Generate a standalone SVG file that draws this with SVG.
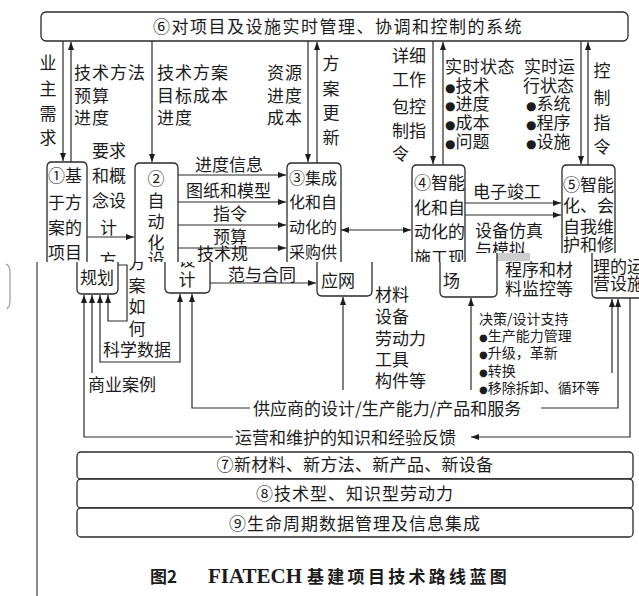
<svg xmlns="http://www.w3.org/2000/svg" width="639" height="596" viewBox="0 0 639 596">
<defs>
<style>
.t{font-family:"Noto Sans CJK SC","Noto Sans CJK JP",sans-serif;font-size:17px;fill:#1c1c1c}
.m{text-anchor:middle}
.s{font-size:14px}
.n{font-size:16px}
.d{font-family:"DejaVu Sans",sans-serif;font-size:12px}
.ds{font-family:"DejaVu Sans",sans-serif;font-size:10px}
.bx{fill:#fff;stroke:#2a2a2a;stroke-width:1.3}
.pc{fill:none;stroke:#2a2a2a;stroke-width:1.3}
.l{fill:none;stroke:#2a2a2a;stroke-width:1.2}
.a{marker-end:url(#ah)}
.a2{marker-start:url(#ahs);marker-end:url(#ah)}
</style>
<marker id="ah" viewBox="0 0 8 6" refX="8" refY="3" markerWidth="8" markerHeight="6" markerUnits="userSpaceOnUse" orient="auto"><path d="M0,0 L8,3 L0,6 z" fill="#1c1c1c"/></marker>
<marker id="ahs" viewBox="0 0 8 6" refX="8" refY="3" markerWidth="8" markerHeight="6" markerUnits="userSpaceOnUse" orient="auto-start-reverse"><path d="M0,0 L8,3 L0,6 z" fill="#1c1c1c"/></marker>
<clipPath id="ct"><polygon points="0,0 639,0 639,253 470,253 470,262 0,262"/></clipPath>
<clipPath id="cb"><polygon points="0,262 470,262 470,253 639,253 639,596 0,596"/></clipPath>
</defs>
<rect width="639" height="596" fill="#fff"/>

<!-- scan artifacts -->
<line x1="37" y1="262" x2="37" y2="596" stroke="#8a8a8a" stroke-width="2"/>
<path d="M6,264 Q10,266 10,272 V302 Q10,306 7,309" fill="none" stroke="#9a9a9a" stroke-width="1.2"/>
<rect x="497" y="253" width="33" height="8" fill="#cdcdcd"/>

<g id="node6">
<rect class="bx" x="41" y="12" width="587" height="29" rx="5"/>
<text class="t m" x="338" y="33" letter-spacing="1.5">⑥对项目及设施实时管理、协调和控制的系统</text>
</g>

<g id="node1">
<g clip-path="url(#ct)">
<path class="pc" d="M47,300 V167 Q47,162 52,162 H82 Q87,162 87,167 V300"/>
<text class="t" x="48" y="181.5">①基</text>
<text class="t" x="48" y="208.5">于方</text>
<text class="t" x="48" y="233.5">案的</text>
<text class="t" x="48" y="258.5">项目</text>
</g>
<g clip-path="url(#cb)">
<path class="pc" d="M77,200 V289 Q77,294 82,294 H113 Q118,294 118,289 V200"/>
<text class="t" x="80" y="283.5">规划</text>
</g>
</g>

<g id="node2">
<g clip-path="url(#ct)">
<path class="pc" d="M135,300 V168 Q135,163 140,163 H173 Q178,163 178,168 V300"/>
<text class="t m" x="156" y="184.5">②</text>
<text class="t m" x="156" y="206.5">自</text>
<text class="t m" x="156" y="227.5">动</text>
<text class="t m" x="156" y="248.5">化</text>
<text class="t m" x="156" y="265.5">设</text>
</g>
<g clip-path="url(#cb)">
<path class="pc" d="M165,200 V288 Q165,293 170,293 H205 Q210,293 210,288 V200"/>
<text class="t m" x="187" y="265.5">设</text>
<text class="t m" x="187" y="285.5">计</text>
</g>
</g>

<g id="node3">
<g clip-path="url(#ct)">
<path class="pc" d="M287,300 V168 Q287,163 292,163 H336 Q341,163 341,168 V300"/>
<text class="t n" x="289" y="184">③集成</text>
<text class="t n" x="289" y="208">化和自</text>
<text class="t n" x="289" y="233">动化的</text>
<text class="t n" x="289" y="258">采购供</text>
</g>
<g clip-path="url(#cb)">
<path class="pc" d="M317,200 V291 Q317,296 322,296 H367 Q372,296 372,291 V200"/>
<text class="t" x="321" y="286.5">应网</text>
</g>
</g>

<g id="node4">
<g clip-path="url(#ct)">
<path class="pc" d="M412,300 V170 Q412,165 417,165 H460 Q465,165 465,170 V300"/>
<text class="t" x="414" y="188.5">④智能</text>
<text class="t" x="414" y="213.5">化和自</text>
<text class="t" x="414" y="237.5">动化的</text>
<text class="t" x="414" y="263.5">施工现</text>
</g>
<g clip-path="url(#cb)">
<path class="pc" d="M440,200 V292 Q440,297 445,297 H492 Q497,297 497,292 V200"/>
<text class="t" x="443" y="286.5">场</text>
</g>
</g>

<g id="node5">
<g clip-path="url(#ct)">
<path class="pc" d="M562,300 V170 Q562,165 567,165 H610 Q615,165 615,170 V300"/>
<text class="t" x="563" y="191" font-size="16.5">⑤智能</text>
<text class="t" x="563" y="212" font-size="16.5">化、会</text>
<text class="t" x="563" y="233" font-size="16.5">自我维</text>
<text class="t" x="563" y="251" font-size="16.5">护和修</text>
</g>
<g clip-path="url(#cb)">
<path class="pc" d="M592,200 V293 Q592,298 597,298 H650"/>
<text class="t" x="593" y="272.5">理的运</text>
<text class="t" x="593" y="289.5">营设施</text>
</g>
</g>

<g id="node7">
<rect class="bx" x="77" y="452" width="556" height="27" rx="4"/>
<text class="t m" x="355" y="471" letter-spacing="0.3">⑦新材料、新方法、新产品、新设备</text>
</g>
<g id="node8">
<rect class="bx" x="77" y="479" width="556" height="29" rx="4"/>
<text class="t m" x="355" y="499.5" letter-spacing="1">⑧技术型、知识型劳动力</text>
</g>
<g id="node9">
<rect class="bx" x="77" y="508" width="556" height="29" rx="4"/>
<text class="t m" x="355" y="529.5" letter-spacing="1">⑨生命周期数据管理及信息集成</text>
</g>

<g id="connectors">
<g clip-path="url(#ct)">
<path class="l a" d="M63,41 V161"/>
<path class="l a" d="M71,162 V42"/>
<path class="l a" d="M152,41 V162"/>
<path class="l a" d="M308,41 V162"/>
<path class="l a" d="M317,163 V42"/>
<path class="l a" d="M433,41 V164"/>
<path class="l a" d="M443,165 V42"/>
<path class="l a" d="M581,41 V164"/>
<path class="l a" d="M588,165 V42"/>
<path class="l a" d="M87,237 H134"/>
<path class="l a" d="M178,175 H286"/>
<path class="l a" d="M178,202 H286"/>
<path class="l a" d="M178,225 H286"/>
<path class="l a" d="M178,248 H286"/>
<path class="l a2" d="M341,230 H411"/>
<path class="l a" d="M465,203 H561"/>
<path class="l a" d="M465,215 H561"/>
</g>
<g clip-path="url(#cb)">
<path class="l a" d="M210,283 H316"/>
<path class="l a" d="M118,265 H127 V321 H108 V295"/>
<path class="l a2" d="M100,295 V362 H180 V294"/>
<path class="l a" d="M92,373 V295"/>
<path class="l a" d="M233,437 H84 V295"/>
<path class="l a" d="M630,298 V437 H471"/>
<path class="l a" d="M250,408 H192 V294"/>
<path class="l a" d="M541,408 H618 V299"/>
<path class="l a" d="M612,373 V299"/>
<path class="l a" d="M343,390 V297"/>
<path class="l a" d="M471,390 V298"/>
</g>
</g>

<g id="labels">
<g clip-path="url(#ct)">
<text class="t m" x="48" y="68.5">业</text>
<text class="t m" x="48" y="94.5">主</text>
<text class="t m" x="48" y="119.5">需</text>
<text class="t m" x="48" y="143.5">求</text>
<text class="t" x="74" y="78.5" letter-spacing="1">技术方法</text>
<text class="t" x="74" y="101.5" letter-spacing="1">预算</text>
<text class="t" x="74" y="123.5" letter-spacing="1">进度</text>
<text class="t" x="157" y="78.5" letter-spacing="1">技术方案</text>
<text class="t" x="157" y="101.5" letter-spacing="1">目标成本</text>
<text class="t" x="157" y="123.5" letter-spacing="1">进度</text>
<text class="t" x="267" y="78.5" letter-spacing="1">资源</text>
<text class="t" x="267" y="101.5" letter-spacing="1">进度</text>
<text class="t" x="267" y="123.5" letter-spacing="1">成本</text>
<text class="t m" x="331" y="69.5">方</text>
<text class="t m" x="331" y="94.5">案</text>
<text class="t m" x="331" y="118.5">更</text>
<text class="t m" x="331" y="143.5">新</text>
<text class="t" x="392" y="61.5">详细</text>
<text class="t" x="392" y="85.5">工作</text>
<text class="t" x="392" y="112.5">包控</text>
<text class="t" x="392" y="136.5">制指</text>
<text class="t" x="392" y="159.5">令</text>
<text class="t" x="445" y="73" letter-spacing="0.5">实时状态</text>
<text class="t" x="445" y="92"><tspan class="d">●</tspan>技术</text>
<text class="t" x="445" y="110"><tspan class="d">●</tspan>进度</text>
<text class="t" x="445" y="128.5"><tspan class="d">●</tspan>成本</text>
<text class="t" x="445" y="147.5"><tspan class="d">●</tspan>问题</text>
<text class="t" x="524" y="73">实时运</text>
<text class="t" x="523" y="92">行状态</text>
<text class="t" x="526" y="110"><tspan class="d">●</tspan>系统</text>
<text class="t" x="526" y="128.5"><tspan class="d">●</tspan>程序</text>
<text class="t" x="526" y="147.5"><tspan class="d">●</tspan>设施</text>
<text class="t m" x="602" y="76.5">控</text>
<text class="t m" x="602" y="103.5">制</text>
<text class="t m" x="602" y="128.5">指</text>
<text class="t m" x="602" y="152.5">令</text>
<text class="t" x="92" y="156.5">要求</text>
<text class="t" x="92" y="181.5">和概</text>
<text class="t" x="92" y="206.5">念设</text>
<text class="t" x="100" y="233.5">计</text>
<text class="t m" x="108" y="266.5">方</text>
<text class="t" x="195" y="171">进度信息</text>
<text class="t" x="186" y="196.5">图纸和模型</text>
<text class="t" x="213" y="219.5">指令</text>
<text class="t" x="213" y="242.5">预算</text>
<text class="t" x="197" y="259.5">技术规</text>
<text class="t" x="473" y="198">电子竣工</text>
<text class="t" x="475" y="236.5">设备仿真</text>
<text class="t" x="475" y="256">与模拟</text>
</g>
<g clip-path="url(#cb)">
<text class="t m" x="137" y="268.5">方</text>
<text class="t m" x="137" y="291.5">案</text>
<text class="t m" x="137" y="312.5">如</text>
<text class="t m" x="137" y="334.5">何</text>
<text class="t" x="228" y="281">范与合同</text>
<text class="t" x="505" y="276">程序和材</text>
<text class="t" x="505" y="295">料监控等</text>
</g>
<text class="t" x="103" y="356">科学数据</text>
<text class="t" x="88" y="391">商业案例</text>
<text class="t" x="375" y="301">材料</text>
<text class="t" x="375" y="323">设备</text>
<text class="t" x="375" y="344.5">劳动力</text>
<text class="t" x="375" y="366">工具</text>
<text class="t" x="375" y="386.5">构件等</text>
<text class="t s" x="479" y="323.5">决策/设计支持</text>
<text class="t s" x="479" y="340.5"><tspan class="ds">●</tspan>生产能力管理</text>
<text class="t s" x="479" y="358"><tspan class="ds">●</tspan>升级，革新</text>
<text class="t s" x="479" y="375.5"><tspan class="ds">●</tspan>转换</text>
<text class="t s" x="479" y="393"><tspan class="ds">●</tspan>移除拆卸、循环等</text>
<text class="t" x="253" y="414.5">供应商的设计/生产能力/产品和服务</text>
<text class="t" x="235" y="443.5">运营和维护的知识和经验反馈</text>
</g>

<g id="caption">
<text class="t" x="150" y="583" font-size="20" font-weight="bold">图2</text>
<text x="208" y="583" font-family="Liberation Serif, serif" font-size="21" font-weight="bold" fill="#1c1c1c">FIATECH</text>
<text class="t" x="307" y="583" font-size="20" font-weight="bold" letter-spacing="3.3">基建项目技术路线蓝图</text>
</g>
</svg>
